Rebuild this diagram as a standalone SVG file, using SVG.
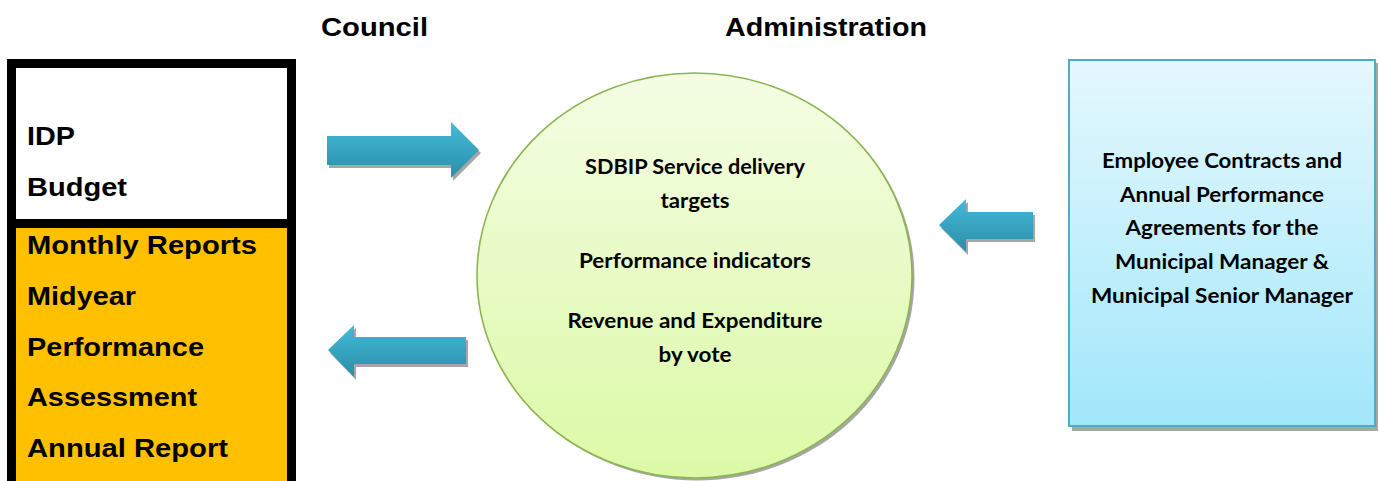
<svg xmlns="http://www.w3.org/2000/svg" width="1379" height="481" viewBox="0 0 1379 481">
  <style>
    .hdr { font-family: "Liberation Sans", Arial, sans-serif; font-weight: bold; font-size: 26.5px; fill: #000; }
    .lft { font-family: "Liberation Sans", Arial, sans-serif; font-weight: bold; font-size: 26.5px; fill: #000; }
    .ctr { font-family: Lato, "Open Sans", sans-serif; font-weight: bold; font-size: 20px; fill: #000; text-anchor: middle; }
    .shadow { fill: #a6a6a6; }
    .arrow { fill: url(#arrowGrad); }
  </style>
  <defs>
    <linearGradient id="arrowGrad" x1="0" y1="0" x2="0" y2="1">
      <stop offset="0" stop-color="#43bad9"/>
      <stop offset="1" stop-color="#2a8ea8"/>
    </linearGradient>
    <linearGradient id="circGrad" x1="0" y1="0" x2="0" y2="1">
      <stop offset="0" stop-color="#f4fde4"/>
      <stop offset="1" stop-color="#dcf9a6"/>
    </linearGradient>
    <linearGradient id="boxGrad" x1="0" y1="0" x2="0" y2="1">
      <stop offset="0" stop-color="#e5f8fd"/>
      <stop offset="1" stop-color="#a2e7fb"/>
    </linearGradient>
  </defs>
  <rect width="1379" height="481" fill="#ffffff"/>

  <g id="headers">
    <text class="hdr" x="321" y="36" textLength="107" lengthAdjust="spacingAndGlyphs">Council</text>
    <text class="hdr" x="725" y="36" textLength="202" lengthAdjust="spacingAndGlyphs">Administration</text>
  </g>

  <g id="council-box">
    <rect x="7" y="59" width="289" height="440" fill="#000"/>
    <rect x="16" y="68" width="271" height="151" fill="#ffffff"/>
    <rect x="16" y="228" width="271" height="260" fill="#ffc000"/>
    <text class="lft" x="27" y="145" textLength="48" lengthAdjust="spacingAndGlyphs">IDP</text>
    <text class="lft" x="27" y="196" textLength="100" lengthAdjust="spacingAndGlyphs">Budget</text>
    <text class="lft" x="27" y="254" textLength="230" lengthAdjust="spacingAndGlyphs">Monthly Reports</text>
    <text class="lft" x="27" y="305" textLength="109" lengthAdjust="spacingAndGlyphs">Midyear</text>
    <text class="lft" x="27" y="356" textLength="177" lengthAdjust="spacingAndGlyphs">Performance</text>
    <text class="lft" x="27" y="406" textLength="170" lengthAdjust="spacingAndGlyphs">Assessment</text>
    <text class="lft" x="27" y="457" textLength="201" lengthAdjust="spacingAndGlyphs">Annual Report</text>
  </g>

  <g id="sdbip-circle">
    <ellipse cx="697" cy="278" rx="217.5" ry="202.5" class="shadow"/>
    <ellipse cx="694.5" cy="275.5" rx="217.5" ry="202.5" fill="url(#circGrad)" stroke="#8cb552" stroke-width="1.6"/>
    <text class="ctr" x="695" y="174" textLength="220" lengthAdjust="spacingAndGlyphs">SDBIP Service delivery</text>
    <text class="ctr" x="695" y="207.5" textLength="69" lengthAdjust="spacingAndGlyphs">targets</text>
    <text class="ctr" x="695" y="268" textLength="232" lengthAdjust="spacingAndGlyphs">Performance indicators</text>
    <text class="ctr" x="695" y="328" textLength="255" lengthAdjust="spacingAndGlyphs">Revenue and Expenditure</text>
    <text class="ctr" x="695" y="361.5" textLength="73" lengthAdjust="spacingAndGlyphs">by vote</text>
  </g>

  <g id="contracts-box">
    <rect x="1072" y="63" width="306" height="368" class="shadow"/>
    <rect x="1069" y="60" width="306" height="366" fill="url(#boxGrad)" stroke="#4aaec8" stroke-width="2"/>
    <text class="ctr" x="1222" y="168" textLength="240" lengthAdjust="spacingAndGlyphs">Employee Contracts and</text>
    <text class="ctr" x="1222" y="201.5" textLength="204" lengthAdjust="spacingAndGlyphs">Annual Performance</text>
    <text class="ctr" x="1222" y="235" textLength="193" lengthAdjust="spacingAndGlyphs">Agreements for the</text>
    <text class="ctr" x="1222" y="269" textLength="214" lengthAdjust="spacingAndGlyphs">Municipal Manager &amp;</text>
    <text class="ctr" x="1222" y="303" textLength="262" lengthAdjust="spacingAndGlyphs">Municipal Senior Manager</text>
  </g>

  <g id="connectors">
    <g id="arrow-council-to-admin">
      <path class="shadow" transform="translate(2,3)" d="M327,136 H451 V122 L479,150 L451,178 V165 H327 Z"/>
      <path class="arrow" d="M327,136 H451 V122 L479,150 L451,178 V165 H327 Z"/>
    </g>
    <g id="arrow-admin-to-council">
      <path class="shadow" transform="translate(2,3)" d="M328,350 L354,325 V337 H466 V364 H354 V377 Z"/>
      <path class="arrow" d="M328,350 L354,325 V337 H466 V364 H354 V377 Z"/>
    </g>
    <g id="arrow-contracts-to-admin">
      <path class="shadow" transform="translate(2,3)" d="M939,225 L966,199 V212 H1033 V239 H966 V252 Z"/>
      <path class="arrow" d="M939,225 L966,199 V212 H1033 V239 H966 V252 Z"/>
    </g>
  </g>
</svg>
